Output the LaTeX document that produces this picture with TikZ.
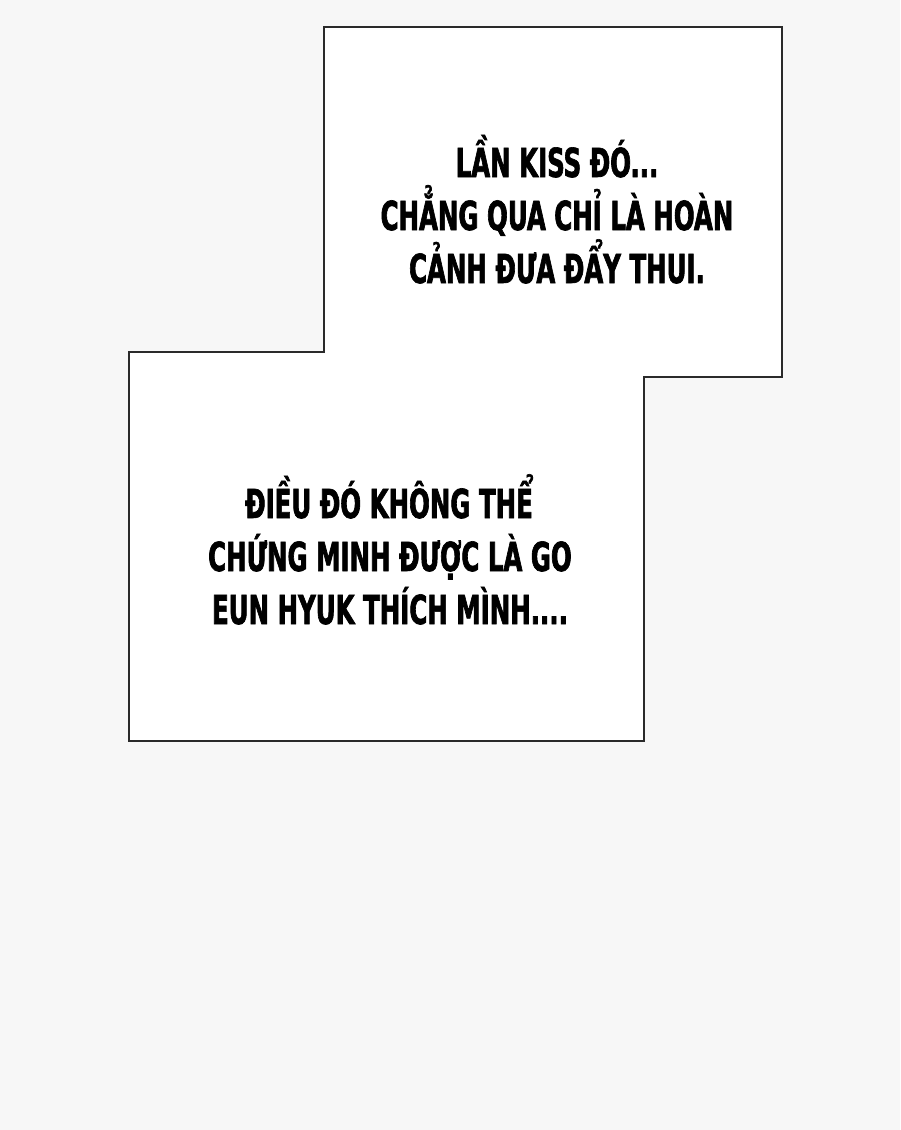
\documentclass[tikz,border=0pt]{standalone}
\usepackage{fontspec}
\newfontfamily\capsfont[FakeStretch=0.68,FakeBold=1.6]{DejaVu Sans Condensed Bold}
\definecolor{paper}{HTML}{F7F7F7}
\definecolor{edge}{HTML}{2A2A2A}
\begin{document}
\begin{tikzpicture}[x=1pt,y=-1pt,
  say/.style={anchor=base,inner sep=0pt,font=\capsfont\fontsize{40}{53}\selectfont}]
\useasboundingbox[fill=paper] (0,0) rectangle (900,1130);

% the two panels, one outline
\draw[edge,line width=2.2pt,fill=white]
(324,27) -- (782,27) -- (782,377) -- (644,377) -- (644,741)
-- (129,741) -- (129,352) -- (324,352) -- cycle;

\node[say] (a1) at (557,177) {LẦN KISS ĐÓ...};
\node[say] (a2) at (557,230) {CHẲNG QUA CHỈ LÀ HOÀN};
\node[say] (a3) at (557,283) {CẢNH ĐƯA ĐẨY THUI.};

\node[say] (b1) at (389,518) {ĐIỀU ĐÓ KHÔNG THỂ};
\node[say] (b2) at (390,571) {CHỨNG MINH ĐƯỢC LÀ GO};
\node[say] (b3) at (390,624) {EUN HYUK THÍCH MÌNH....};
\end{tikzpicture}
\end{document}
